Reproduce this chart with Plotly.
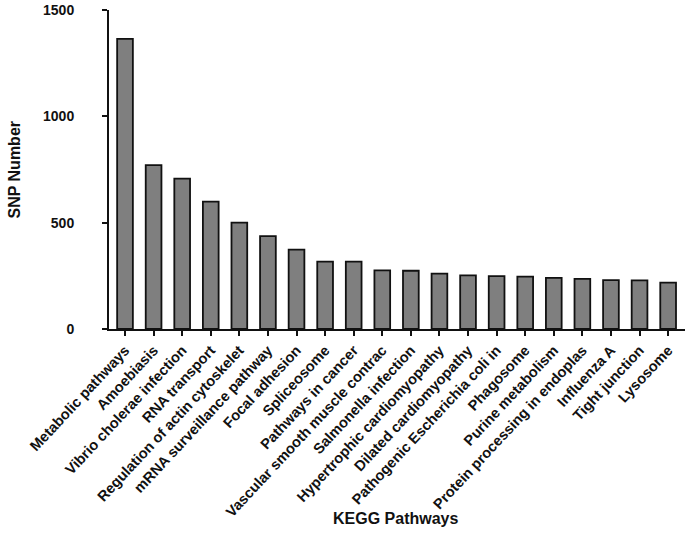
import plotly.graph_objects as go

pathways = [
    "Metabolic pathways", "Amoebiasis", "Vibrio cholerae infection", "RNA transport",
    "Regulation of actin cytoskelet", "mRNA surveillance pathway", "Focal adhesion",
    "Spliceosome", "Pathways in cancer", "Vascular smooth muscle contrac",
    "Salmonella infection", "Hypertrophic cardiomyopathy", "Dilated cardiomyopathy",
    "Pathogenic Escherichia coli in", "Phagosome", "Purine metabolism",
    "Protein processing in endoplas", "Influenza A", "Tight junction", "Lysosome",
]
snp_counts = [1364, 771, 707, 599, 500, 437, 373, 317, 317, 276,
              274, 260, 252, 249, 246, 240, 236, 230, 229, 218]
y_ticks = [0, 500, 1000, 1500]

FONT = "Liberation Sans, Arial, sans-serif"
INK = "#111111"

W, H = 690, 545
L, R, T, B = 109, 5, 10, 216
plot_w = W - L - R
plot_h = H - T - B

fig = go.Figure(go.Bar(
    x=list(range(len(pathways))),
    y=snp_counts,
    width=0.55,
    marker=dict(color="#7f7f7f", line=dict(color=INK, width=1.8)),
))

fig.update_layout(
    width=W, height=H,
    margin=dict(l=L, r=R, t=T, b=B, autoexpand=False),
    plot_bgcolor="white", paper_bgcolor="white",
    showlegend=False,
    font=dict(family=FONT, color=INK),
    xaxis=dict(
        range=[-0.56, 19.59],
        automargin=False,
        tickmode="array",
        tickvals=list(range(len(pathways))),
        ticktext=[f"<b>{p}</b>" for p in pathways],
        tickangle=-47,
        tickfont=dict(size=14.6, family=FONT, color=INK),
        ticks="outside", ticklen=5, tickwidth=2, tickcolor=INK,
        showline=True, linecolor=INK, linewidth=2,
        showgrid=False, zeroline=False,
    ),
    yaxis=dict(
        range=[0, 1500],
        automargin=False,
        tickmode="array",
        tickvals=y_ticks,
        ticktext=[f"<b>{v}</b>" for v in y_ticks],
        tickfont=dict(size=14, family=FONT, color=INK),
        ticks="outside", ticklen=5, tickwidth=2, tickcolor=INK,
        ticklabelstandoff=25,
        showline=True, linecolor=INK, linewidth=2,
        showgrid=False, zeroline=False,
    ),
    annotations=[
        dict(text="<b>KEGG Pathways</b>",
             x=(395 - L) / plot_w, y=(H - B - 518) / plot_h,
             xref="paper", yref="paper", showarrow=False,
             font=dict(size=16, family=FONT, color=INK),
             xanchor="center", yanchor="middle"),
        dict(text="<b>SNP Number</b>",
             x=(14 - L) / plot_w, y=0.5,
             xref="paper", yref="paper", showarrow=False, textangle=-90,
             font=dict(size=16, family=FONT, color=INK),
             xanchor="center", yanchor="middle"),
    ],
)

fig.write_html(
    "out.html",
    config={"displayModeBar": False},
    post_script="document.body.style.margin='0';document.body.style.overflow='hidden';",
)
